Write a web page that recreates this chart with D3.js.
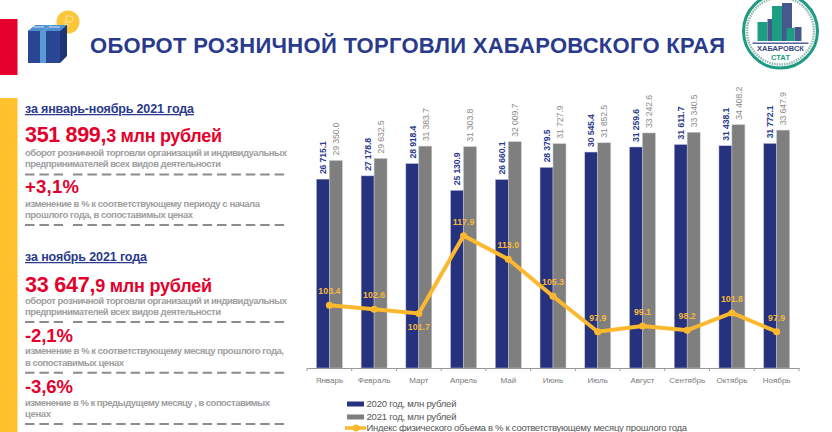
<!DOCTYPE html>
<html lang="ru"><head><meta charset="utf-8">
<script src="https://cdn.jsdelivr.net/npm/d3@7"></script>
<style>
html,body{margin:0;padding:0;background:#fff;overflow:hidden}
svg{display:block;font-family:"Liberation Sans",Arial,sans-serif}
</style></head><body><svg id="c" width="832" height="432"></svg>
<script>
const months=["Январь","Февраль","Март","Апрель","Май","Июнь","Июль","Август","Сентябрь","Октябрь","Ноябрь"];
const values2020=[26715.1,27178.8,28918.4,25130.9,26660.1,28379.5,30545.4,31259.6,31611.7,31438.1,31772.1];
const values2021=[29350.0,29632.5,31383.7,31303.8,32009.7,31727.9,31852.5,33242.6,33340.5,34408.2,33647.9];
const indexValues=[103.4,102.6,101.7,117.9,113.0,105.3,97.9,99.1,98.2,101.8,97.9];
const labelsBelow=["Март"];
const legendLabels=["2020 год, млн рублей","2021 год, млн рублей","Индекс физического объема в % к соответствующему месяцу прошлого года"];
const titleText="ОБОРОТ РОЗНИЧНОЙ ТОРГОВЛИ ХАБАРОВСКОГО КРАЯ";

const NAVY="#27327f",GRAY="#7f7f7f",YEL="#fdb92e",RED="#e4002b",TXT="#a0a0a0";
const svg=d3.select("#c");
const fmt=v=>{const s=v.toFixed(1).split(".");return s[0].replace(/\B(?=(\d{3})+$)/g," ")+"."+s[1]};

// header decorations
svg.append("rect").attr("x",0).attr("y",19).attr("width",17.5).attr("height",56).attr("fill",RED);
svg.append("rect").attr("x",0).attr("y",98).attr("width",17.5).attr("height",334).attr("fill","#ffc12e");
svg.append("circle").attr("cx",68).attr("cy",22).attr("r",11.5).attr("fill","#fcc63a");
svg.append("path").attr("d","M66 27V16h4a3 3 0 0 1 0 6h-6M64 25h5").attr("fill","none").attr("stroke","#fde59a").attr("stroke-width",1);
svg.append("path").attr("d","M28 31L36 25H67V56L60 63V31Z").attr("fill","#1d3577");
svg.append("path").attr("d","M28 31L36 25H67L60 31Z").attr("fill","#4f8fd0");
svg.append("rect").attr("x",28).attr("y",31).attr("width",32).attr("height",32).attr("fill","#2a4594");
svg.append("rect").attr("x",40).attr("y",31).attr("width",6).attr("height",32).attr("fill","#5b9bd5");
svg.append("path").attr("d","M41 31L48 25H53L46 31Z").attr("fill","#5b9bd5");
svg.append("path").attr("d","M34 27H44M49 27H60").attr("stroke","#d7e6f5").attr("stroke-width",1);

svg.append("text").attr("x",90).attr("y",52.5).attr("font-size",22).attr("font-weight",700)
  .attr("fill","#2a3a8c").attr("textLength",635).attr("lengthAdjust","spacing").text(titleText);

// logo
const logo=svg.append("g").attr("transform","translate(780.5,31)");
logo.append("circle").attr("r",37).attr("fill","#fff").attr("stroke","#1f9a83").attr("stroke-width",3);
logo.append("circle").attr("r",33.5).attr("fill","none").attr("stroke","#8fb8b0").attr("stroke-width",2.5).attr("stroke-dasharray","1.5 1");
[[-23,-9,10,19,"#1c9e82"],[-13,-12,9,22,"#47588f"],[-8.5,-25,10,35,"#1c9e82"],[1.5,-28,10,38,"#47588f"],[6,-3,8,13,"#1c9e82"],[14,-4,7,14,"#47588f"]].forEach(b=>
  logo.append("rect").attr("x",b[0]).attr("y",b[1]).attr("width",b[2]).attr("height",b[3]).attr("fill",b[4]));
logo.append("rect").attr("x",-28).attr("y",11.5).attr("width",56).attr("height",1.4).attr("fill","#47588f");
logo.append("text").attr("y",20).attr("text-anchor","middle").attr("font-size",7.5).attr("font-weight",700).attr("fill","#35477f").text("ХАБАРОВСК");
logo.append("text").attr("y",28.5).attr("text-anchor","middle").attr("font-size",7.5).attr("font-weight",700).attr("fill","#1c9e82").text("СТАТ");

// left column
const T=(x,y,t,s,c,w,len)=>{const e=svg.append("text").attr("x",x).attr("y",y).attr("font-size",s).attr("fill",c).attr("font-weight",w||700).text(t);
  if(len)e.attr("textLength",len).attr("lengthAdjust","spacing");return e;};
const big=(y,a,b,len)=>{const e=svg.append("text").attr("x",25).attr("y",y).attr("fill",RED).attr("font-weight",700).attr("textLength",len).attr("lengthAdjust","spacing");
  e.append("tspan").attr("font-size",21.5).text(a);e.append("tspan").attr("font-size",18).text(b);};
const dash=y=>{[[25,63],[73,285]].forEach(r=>svg.append("line").attr("x1",r[0]).attr("x2",r[1]).attr("y1",y).attr("y2",y)
  .attr("stroke","#8c8c8c").attr("stroke-width",2).attr("stroke-dasharray","9.5 4.9"));};
const leftHead=[[113,"за январь-ноябрь 2021 года",169],[261,"за ноябрь 2021 года",122]];
leftHead.forEach(d=>T(25,d[0],d[1],12.5,"#2a3a8c",700,d[2]).attr("text-decoration","underline"));
big(142,"351 899,","3 млн рублей",197);
big(292,"33 647,","9 млн рублей",187);
const leftNotes=[[156,"оборот розничной торговли организаций и индивидуальных",262],[167,"предпринимателей всех видов деятельности",196],
[207,"изменение в % к соответствующему периоду с начала",235],[218,"прошлого года, в сопоставимых ценах",168],
[304,"оборот розничной торговли организаций и индивидуальных",262],[315,"предпринимателей всех видов деятельности",196],
[354,"изменение в % к соответствующему месяцу прошлого года,",259],[365.5,"в сопоставимых ценах",99],
[406,"изменение в % к предыдущему месяцу , в сопоставимых",245],[417,"ценах",26]];
leftNotes.forEach(d=>T(25,d[0],d[1],9.5,TXT,700,d[2]));
const leftPct=[[193,"+3,1%",54],[342,"-2,1%",48],[393,"-3,6%",48]];
leftPct.forEach(d=>T(25,d[0],d[1],18.5,RED,700,d[2]));
[174.5,225,322,372.7,424].forEach(dash);

// chart
const baseY=368;
const x=d3.scaleBand().domain(months).range([307,799]).paddingInner(0.42).paddingOuter(0.21);
const step=x.step();
const y=d3.scaleLinear().domain([0,40000]).range([baseY,baseY-282.8]);
const yi=d3.scaleLinear().domain([97.9,117.9]).range([331.7,235.7]);
const bw=x.bandwidth()/2;

svg.append("g").selectAll("rect").data(months).join("rect").attr("x",m=>x(m)).attr("width",bw)
  .attr("y",(m,i)=>y(values2020[i])).attr("height",(m,i)=>baseY-y(values2020[i])).attr("fill",NAVY).attr("stroke","#c5c8de").attr("stroke-width",.5);
svg.append("g").selectAll("rect").data(months).join("rect").attr("x",m=>x(m)+bw).attr("width",bw)
  .attr("y",(m,i)=>y(values2021[i])).attr("height",(m,i)=>baseY-y(values2021[i])).attr("fill",GRAY).attr("stroke","#c8c8c8").attr("stroke-width",.5);

const axis=svg.append("g").attr("transform",`translate(0,${baseY})`).call(d3.axisBottom(x).tickSize(0).tickPadding(8));
axis.select(".domain").attr("stroke","#9a9a9a");
axis.selectAll("text").attr("font-size",8).attr("font-weight",400).attr("font-family","Liberation Sans").attr("fill","#7a7a7a").attr("dy","0.85em");
svg.append("g").selectAll("line").data(d3.range(months.length+1)).join("line")
  .attr("x1",i=>x.range()[0]+i*step).attr("x2",i=>x.range()[0]+i*step).attr("y1",baseY).attr("y2",baseY+3).attr("stroke","#9a9a9a");

const rot=(g,vals,off,col,wt)=>g.selectAll("text").data(months).join("text")
  .attr("transform",(m,i)=>`translate(${x(m)+off+3.2},${y(vals[i])-5}) rotate(-90)`)
  .attr("font-size",8.7).attr("font-weight",wt).attr("fill",col).attr("textLength",33).attr("lengthAdjust","spacing").text((m,i)=>fmt(vals[i]));
rot(svg.append("g"),values2020,bw/2,"#2a3a8c",700);
rot(svg.append("g"),values2021,bw*1.5,"#8a8a8a",400);

const line=d3.line().x(d=>x(d.m)+x.bandwidth()/2).y(d=>yi(d.v));
const pts=months.map((m,i)=>({m,v:indexValues[i]}));
svg.append("path").datum(pts).attr("d",line).attr("fill","none").attr("stroke",YEL).attr("stroke-width",4);
svg.append("g").selectAll("circle").data(pts).join("circle").attr("cx",d=>x(d.m)+x.bandwidth()/2).attr("cy",d=>yi(d.v)).attr("r",3.5).attr("fill",YEL);
svg.append("g").selectAll("text").data(pts).join("text").attr("x",d=>x(d.m)+x.bandwidth()/2)
  .attr("y",d=>yi(d.v)+(labelsBelow.includes(d.m)?17:-11)).attr("text-anchor","middle")
  .attr("font-size",8.8).attr("font-weight",700).attr("fill","#f5b93c").text(d=>d.v.toFixed(1));

// legend
const lg=svg.append("g");
const legY=[404,417,428];
[NAVY,GRAY].forEach((c,i)=>{lg.append("rect").attr("x",347).attr("y",legY[i]-2.5).attr("width",17).attr("height",5).attr("fill",c);});
lg.append("line").attr("x1",345).attr("x2",366).attr("y1",legY[2]).attr("y2",legY[2]).attr("stroke",YEL).attr("stroke-width",3.5);
lg.append("circle").attr("cx",356).attr("cy",legY[2]).attr("r",3.5).attr("fill",YEL);
legendLabels.forEach((t,i)=>lg.append("text").attr("x",366.5).attr("y",legY[i]+3).attr("font-size",9.5).attr("font-weight",400).attr("fill","#555")
  .attr("textLength",i<2?90:320.5).attr("lengthAdjust","spacing").text(t));
</script></body></html>
